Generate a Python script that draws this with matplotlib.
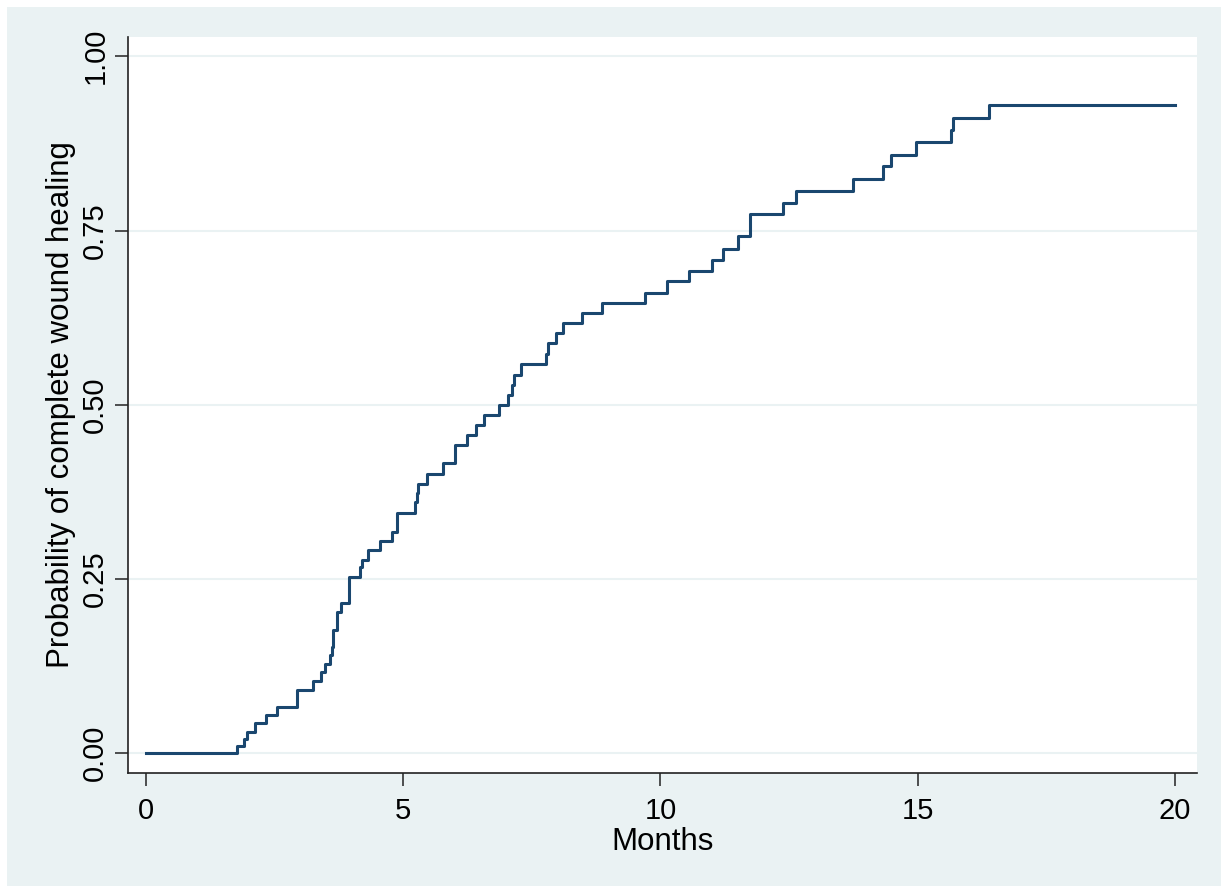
import matplotlib.pyplot as plt
from matplotlib.patches import Rectangle

# Kaplan-Meier style failure curve
event_months = [0.0, 1.76, 1.90, 1.97, 2.12, 2.33, 2.55, 2.93, 3.25, 3.41, 3.48,
                3.58, 3.61, 3.64, 3.71, 3.80, 3.95, 4.16, 4.19, 4.31, 4.54,
                4.78, 4.87, 5.23, 5.26, 5.29, 5.46, 5.78, 6.01, 6.24, 6.41,
                6.57, 6.87, 7.04, 7.11, 7.15, 7.29, 7.78, 7.82, 7.97, 8.10,
                8.47, 8.86, 9.70, 10.12, 10.55, 11.00, 11.22, 11.50, 11.75,
                12.38, 12.63, 13.75, 14.32, 14.48, 14.97, 15.65, 15.68, 16.39, 20.0]
prob_healed = [0.0, 0.010, 0.020, 0.031, 0.043, 0.055, 0.067, 0.091, 0.104, 0.116, 0.128,
               0.141, 0.153, 0.177, 0.202, 0.215, 0.253, 0.267, 0.278, 0.292, 0.305,
               0.318, 0.345, 0.360, 0.373, 0.387, 0.401, 0.416, 0.443, 0.457, 0.471,
               0.485, 0.499, 0.514, 0.528, 0.543, 0.558, 0.573, 0.588, 0.603, 0.617,
               0.632, 0.646, 0.661, 0.677, 0.692, 0.708, 0.724, 0.742, 0.774,
               0.789, 0.807, 0.824, 0.842, 0.859, 0.877, 0.894, 0.911, 0.930, 0.930]

x_ticks = [0, 5, 10, 15, 20]
y_ticks = [0.0, 0.25, 0.5, 0.75, 1.0]

plt.rcParams['font.family'] = ['Liberation Sans', 'DejaVu Sans']

bg = '#eaf2f3'
navy = '#1a476f'

fig = plt.figure(figsize=(12.28, 8.93), dpi=100)
fig.patches.append(Rectangle((7 / 1228, 7 / 893), 1214 / 1228, 879 / 893,
                             transform=fig.transFigure, facecolor=bg,
                             edgecolor='none', zorder=-10))

ax = fig.add_axes([128 / 1228, 1 - 773 / 893, 1069 / 1228, 736 / 893])
ax.set_zorder(5)
ax.set_facecolor('white')

ax.step(event_months, prob_healed, where='post', color=navy, lw=2.2, zorder=3)

ax.set_xlim(-0.35, 20.43)
ax.set_ylim(-0.0283, 1.0277)
ax.set_xticks(x_ticks)
ax.set_yticks(y_ticks)
ax.set_yticklabels(['%.2f' % v for v in y_ticks], rotation=90, va='center')
ax.grid(axis='y', color=bg, lw=1.5)
ax.set_axisbelow(True)

for side in ['top', 'right']:
    ax.spines[side].set_visible(False)
for side in ['left', 'bottom']:
    ax.spines[side].set_color('#222222')
    ax.spines[side].set_linewidth(1.2)

ax.tick_params(axis='both', direction='out', length=9.5, width=1.1,
               color='#222222', labelsize=21, pad=8)
ax.tick_params(axis='y', pad=4)

ax.set_xlabel('Months', fontsize=22.5, labelpad=1)
ax.set_ylabel('Probability of complete wound healing', fontsize=22.5, labelpad=4)

fig.savefig('out.png', dpi=100)
